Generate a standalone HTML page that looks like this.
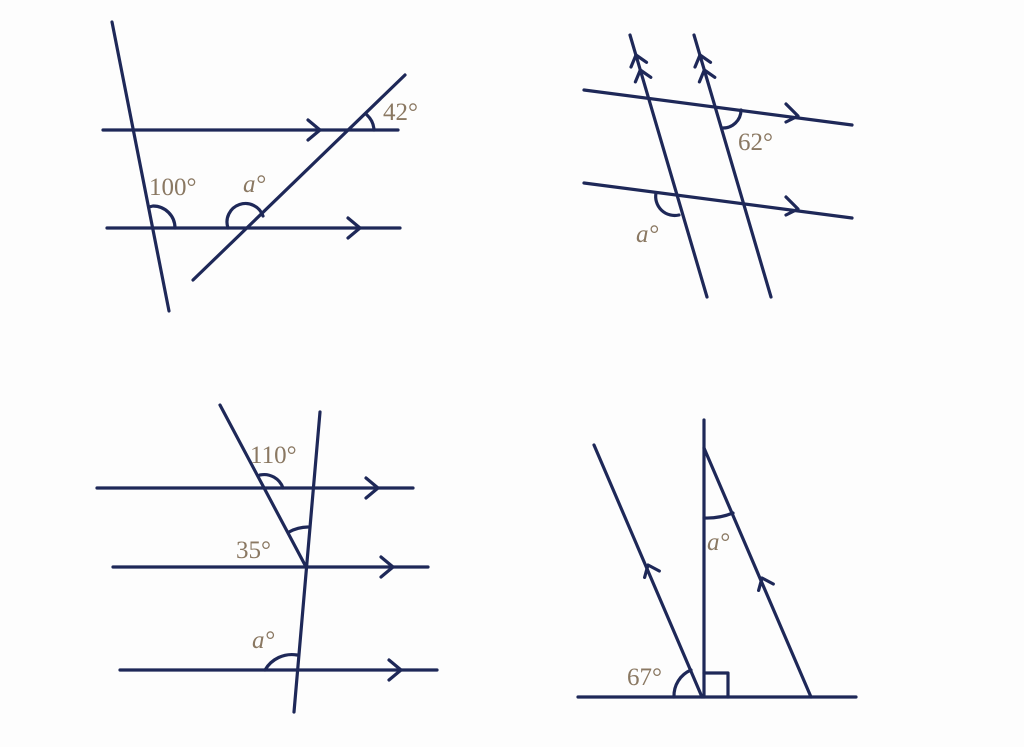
<!DOCTYPE html>
<html><head><meta charset="utf-8"><style>
html,body{margin:0;padding:0;background:#fdfdfd;}
svg{display:block}
text{font-family:"Liberation Serif",serif;font-size:25px;fill:#8a7862;}
.it{font-style:italic}
</style></head><body>
<svg width="1024" height="747" viewBox="0 0 1024 747">
<g stroke="#1e2858" stroke-width="3.2" fill="none" stroke-linecap="round" stroke-linejoin="round">
<!-- TL -->
<line x1="112" y1="22" x2="169" y2="311"/>
<line x1="103" y1="130" x2="398" y2="130"/>
<line x1="107" y1="228" x2="400" y2="228"/>
<line x1="193" y1="280" x2="405" y2="75"/>
<polyline points="308,120 320,130 308,140"/>
<polyline points="348,218 360,228 348,238"/>
<path d="M175,228 A22,22 0 0 0 153,206 L149,207"/>
<path d="M228,228 A18,18 0 0 1 263,216"/>
<path d="M374,130 A22,22 0 0 0 367,115"/>
<!-- TR -->
<line x1="630" y1="35" x2="707" y2="297"/>
<line x1="694" y1="35" x2="771" y2="297"/>
<line x1="584" y1="90" x2="852" y2="125"/>
<line x1="584" y1="183" x2="852" y2="218"/>
<polyline points="631,67 636,55 646.5,62.3"/>
<polyline points="635.4,81.9 640.3,70 650.8,77.3"/>
<polyline points="695,67 700,55 710.5,62.3"/>
<polyline points="699.4,81.9 704.3,70 714.8,77.3"/>
<polyline points="786,104 798,116 786,122"/>
<polyline points="786,197 798,209 786,215"/>
<path d="M722,128 A18,18 0 0 0 741,110"/>
<path d="M656,193 A19,19 0 0 0 679,215"/>
<!-- BL -->
<line x1="220" y1="405" x2="305" y2="565"/>
<line x1="320" y1="412" x2="294" y2="712"/>
<line x1="97" y1="488" x2="413" y2="488"/>
<line x1="113" y1="567" x2="428" y2="567"/>
<line x1="120" y1="670" x2="437" y2="670"/>
<polyline points="366,478 378,488 366,498"/>
<polyline points="381,557 393,567 381,577"/>
<polyline points="389,660 401,670 389,680"/>
<path d="M283,488 A20,20 0 0 0 260,475"/>
<path d="M289,532 A40,40 0 0 1 308,527"/>
<path d="M265,670 A31,31 0 0 1 297,655"/>
<!-- BR -->
<line x1="704" y1="420" x2="704" y2="697"/>
<line x1="578" y1="697" x2="856" y2="697"/>
<line x1="594" y1="445" x2="702" y2="697"/>
<line x1="704" y1="448" x2="811" y2="697"/>
<polyline points="644.6,577.4 648,565 659.3,571"/>
<polyline points="758.6,590.4 762,578 773.3,584"/>
<polyline points="704,673 728,673 728,697"/>
<path d="M704,518 A70,70 0 0 0 733,513"/>
<path d="M674,697 A28,28 0 0 1 691,670"/>
</g>
<text x="383" y="120">42°</text>
<text x="149" y="195">100°</text>
<text class="it" x="243" y="192">a°</text>
<text x="738" y="150">62°</text>
<text class="it" x="636" y="242">a°</text>
<text x="250" y="463">110°</text>
<text x="236" y="558">35°</text>
<text class="it" x="252" y="648">a°</text>
<text class="it" x="707" y="550">a°</text>
<text x="627" y="685">67°</text>
</svg>
</body></html>
